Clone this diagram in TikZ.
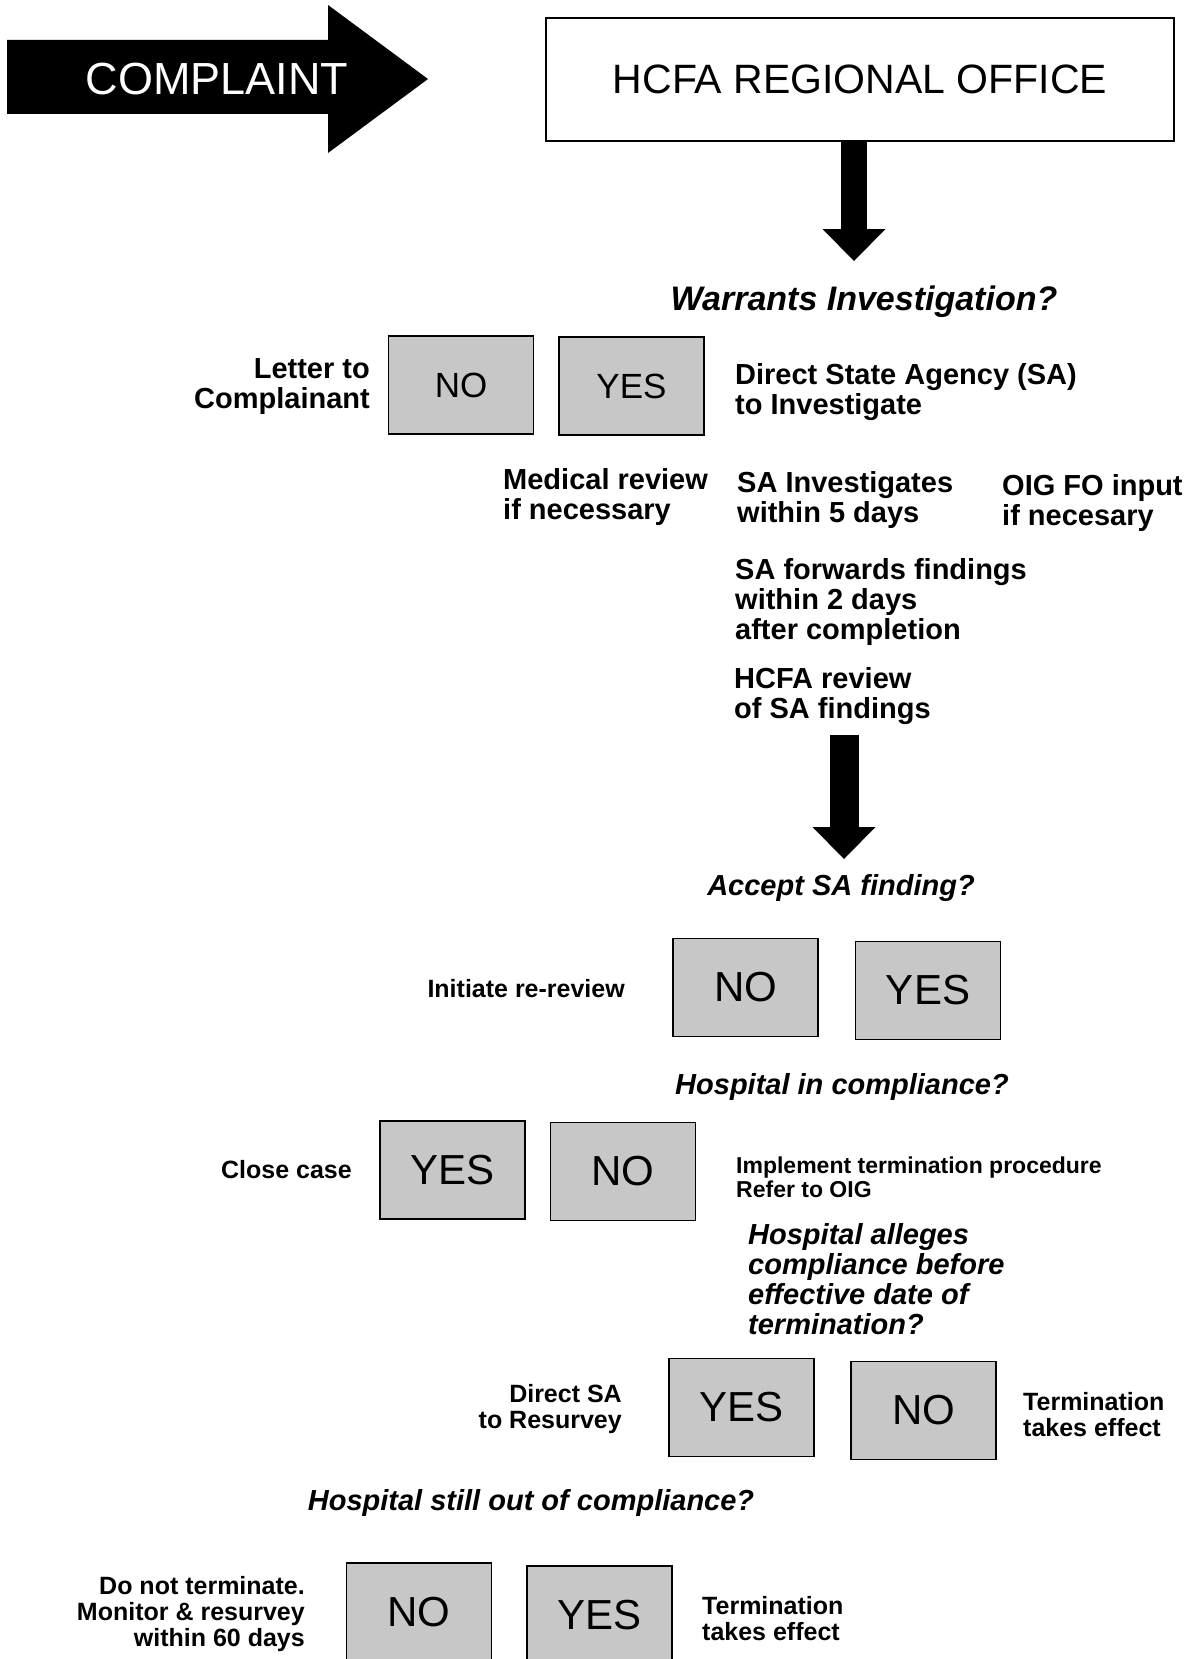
\documentclass[tikz,border=0pt]{standalone}
\usepackage{fontspec}
\setmainfont{Liberation Sans}
\usetikzlibrary{arrows.meta,positioning}

\begin{document}
\begin{tikzpicture}[x=1pt,y=-1pt,
  choice/.style={draw, line width=1.5pt, fill=black!22, minimum width=145pt, minimum height=98pt, inner sep=0pt, font=\fontsize{42}{42}\selectfont},
  smallchoice/.style={choice, font=\fontsize{35}{35}\selectfont},
  question/.style={inner sep=0pt, font=\fontsize{29}{30}\selectfont\bfseries\itshape},
  note/.style={inner sep=0pt, font=\fontsize{29}{30}\selectfont\bfseries},
  midnote/.style={inner sep=0pt, font=\fontsize{25}{26}\selectfont\bfseries},
  smallnote/.style={inner sep=0pt, font=\fontsize{23}{24}\selectfont\bfseries},
  blockarrow/.style={-{Triangle[length=32pt 0 0, width=63pt 0 0, line width=0pt 0 0]}}]
\clip (0,0) rectangle (1189,1659);

\fill (7,40) -- (328,40) -- (328,5) -- (428,79) -- (328,153) -- (328,114) -- (7,114) -- cycle;
\node[text=white, inner sep=0pt, font=\fontsize{45}{45}\selectfont] (complaint) at (217,79) {COMPLAINT};
\node[draw, line width=1.2pt, minimum width=628pt, minimum height=123pt, font=\fontsize{41}{41}\selectfont] (hcfa) at (860,79.5) {HCFA REGIONAL OFFICE};

\coordinate (tip1) at (854,261);
\draw[blockarrow, line width=26pt] (hcfa.south -| tip1) -- (tip1);
\node[question, font=\fontsize{34}{35}\selectfont\bfseries\itshape] (warrants) at (864,302) {Warrants Investigation?};

\node[smallchoice] (no1) at (461,385) {NO};
\node[smallchoice] (yes1) at (631.5,386) {YES};
\node[note, align=right, anchor=east] (letter) at (370,387) {Letter to\\Complainant};
\node[note, align=left, anchor=west] (direct) at (735,392) {Direct State Agency (SA)\\to Investigate};
\node[note, align=left, anchor=west] (medical) at (503,497) {Medical review\\if necessary};
\node[note, align=left, anchor=west] (sainv) at (737,500) {SA Investigates\\within 5 days};
\node[note, align=left, anchor=west] (oig) at (1002,503) {OIG FO input\\if necesary};
\node[note, align=left, anchor=west] (forwards) at (735,602) {SA forwards findings\\within 2 days\\after completion};
\node[note, align=left, anchor=west] (review) at (734,696) {HCFA review\\of SA findings};

\coordinate (tail2) at (844,735);
\coordinate (tip2) at (844,859);
\draw[blockarrow, line width=29pt] (tail2) -- (tip2);
\node[question] (accept) at (841,888) {Accept SA finding?};

\node[choice] (no2) at (745.5,987.5) {NO};
\node[choice] (yes2) at (928,990.5) {YES};
\node[midnote, anchor=east] (rereview) at (625,989) {Initiate re-review};
\node[question] (incompliance) at (842,1087) {Hospital in compliance?};

\node[choice] (yes3) at (452.5,1170) {YES};
\node[choice] (no3) at (623,1171.5) {NO};
\node[midnote, anchor=east] (closecase) at (352,1170) {Close case};
\node[smallnote, align=left, anchor=west] (implement) at (736,1177) {Implement termination procedure\\Refer to OIG};
\node[question, align=left, anchor=west] (alleges) at (748,1279) {Hospital alleges\\compliance before\\effective date of\\termination?};

\node[choice] (yes4) at (741.5,1407.5) {YES};
\node[choice] (no4) at (923.5,1410.5) {NO};
\node[midnote, align=right, anchor=east] (directsa) at (622,1409) {Direct SA\\to Resurvey};
\node[midnote, align=left, anchor=west] (term1) at (1023,1415) {Termination\\takes effect};
\node[question] (stillout) at (531,1503) {Hospital still out of compliance?};

\node[choice] (no5) at (419,1612) {NO};
\node[choice] (yes5) at (599.5,1615) {YES};
\node[midnote, align=right, anchor=east] (donot) at (305,1614) {Do not terminate.\\Monitor \& resurvey\\within 60 days};
\node[midnote, align=left, anchor=west] (term2) at (702,1619) {Termination\\takes effect};
\end{tikzpicture}
\end{document}
